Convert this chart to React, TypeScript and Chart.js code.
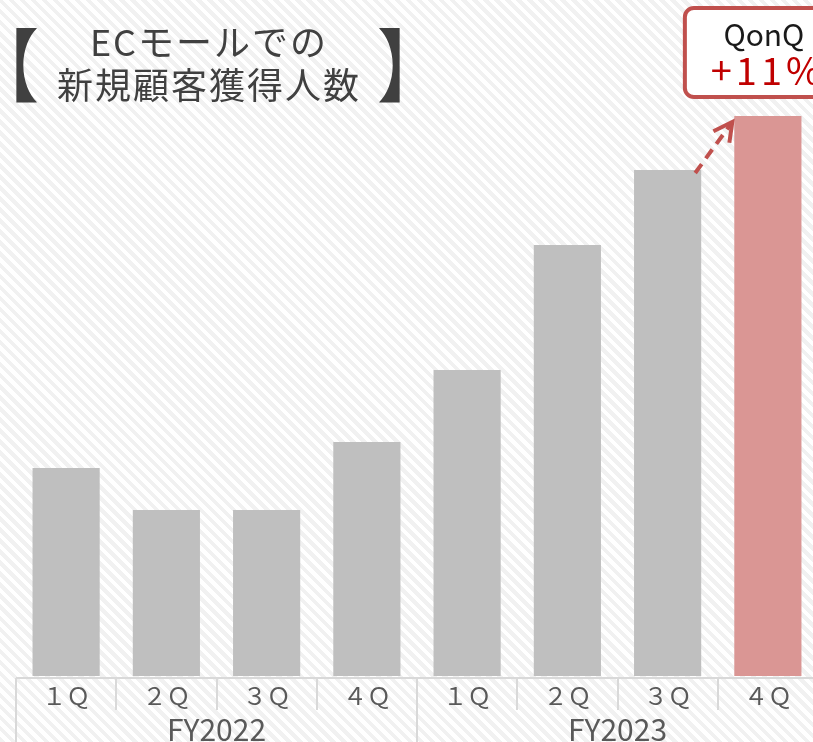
import React, { useEffect, useRef } from 'react';
import { Chart, registerables } from 'chart.js';

Chart.register(...registerables);

const quarterLabels = ['１Ｑ', '２Ｑ', '３Ｑ', '４Ｑ', '１Ｑ', '２Ｑ', '３Ｑ', '４Ｑ'];
const fiscalYears = ['FY2022', 'FY2023'];
const newCustomers = [208, 166, 166, 234, 306, 431, 506, 560];
const titleLines = ['ECモールでの', '新規顧客獲得人数'];
const barColors = ['#bfbfbf', '#bfbfbf', '#bfbfbf', '#bfbfbf', '#bfbfbf', '#bfbfbf', '#bfbfbf', '#da9694'];
const growthLabel = 'QonQ';

const JP = '"Noto Sans CJK JP", "Noto Sans", sans-serif';

function drawBracket(ctx: CanvasRenderingContext2D, ch: string, x: number, y: number, w: number, h: number) {
  ctx.save();
  ctx.font = `100px ${JP}`;
  ctx.textAlign = 'left';
  ctx.textBaseline = 'alphabetic';
  const m = ctx.measureText(ch);
  const inkW = m.actualBoundingBoxLeft + m.actualBoundingBoxRight;
  const inkH = m.actualBoundingBoxAscent + m.actualBoundingBoxDescent;
  ctx.translate(x, y);
  ctx.scale(w / inkW, h / inkH);
  ctx.fillText(ch, m.actualBoundingBoxLeft, m.actualBoundingBoxAscent);
  ctx.restore();
}

const overlayPlugin = {
  id: 'overlay',
  afterDraw(chart: any) {
    const { ctx, chartArea, scales } = chart;
    const xs = scales.x;
    const n = quarterLabels.length;
    const catW = (chartArea.right - chartArea.left) / n;
    const base = chartArea.bottom;
    const H = chart.height;
    ctx.save();

    // axis lines
    ctx.strokeStyle = '#d9d9d9';
    ctx.lineWidth = 2;
    ctx.beginPath();
    ctx.moveTo(chartArea.left, base + 2);
    ctx.lineTo(chartArea.right, base + 2);
    ctx.stroke();
    for (let i = 0; i <= n; i++) {
      const px = i < n ? xs.getPixelForValue(i) - catW / 2 : xs.getPixelForValue(n - 1) + catW / 2;
      const xx = Math.round(px) + 0;
      ctx.beginPath();
      ctx.moveTo(xx, base + 2);
      ctx.lineTo(xx, i % 4 === 0 ? H : base + 34);
      ctx.stroke();
    }

    // quarter labels
    ctx.fillStyle = '#595959';
    ctx.textAlign = 'center';
    ctx.textBaseline = 'middle';
    ctx.font = `24px ${JP}`;
    quarterLabels.forEach((q, i) => {
      ctx.fillText(q, xs.getPixelForValue(i), base + 20);
    });
    // fiscal year labels
    ctx.font = `30px ${JP}`;
    ctx.textBaseline = 'alphabetic';
    fiscalYears.forEach((fy, j) => {
      const cx = (xs.getPixelForValue(j * 4 + 1) + xs.getPixelForValue(j * 4 + 2)) / 2;
      ctx.fillText(fy, cx, H - 1);
    });

    // title
    ctx.fillStyle = '#404040';
    ctx.font = `36px ${JP}`;
    ctx.textAlign = 'center';
    ctx.textBaseline = 'middle';
    (ctx as any).letterSpacing = '2px';
    ctx.fillText(titleLines[0], 209, 42);
    ctx.fillText(titleLines[1], 209, 85);
    (ctx as any).letterSpacing = '0px';
    drawBracket(ctx, '【', 16, 27, 21, 75);
    drawBracket(ctx, '】', 379, 27, 21, 75);

    // dashed arrow between last two bars
    const meta = chart.getDatasetMeta(0);
    const b7 = meta.data[n - 2];
    const b8 = meta.data[n - 1];
    const sx = b7.x + b7.width / 2 - 6;
    const sy = b7.y + 3;
    const tx = b8.x - b8.width / 2 - 2;
    const ty = b8.y + 6;
    ctx.strokeStyle = '#c0504d';
    ctx.lineWidth = 4;
    ctx.setLineDash([11, 7]);
    ctx.beginPath();
    ctx.moveTo(sx, sy);
    ctx.lineTo(tx, ty);
    ctx.stroke();
    ctx.setLineDash([]);
    const ang = Math.atan2(sy - ty, sx - tx);
    const arm = 21;
    const spread = (28 * Math.PI) / 180;
    ctx.beginPath();
    ctx.moveTo(tx + arm * Math.cos(ang - spread), ty + arm * Math.sin(ang - spread));
    ctx.lineTo(tx, ty);
    ctx.lineTo(tx + arm * Math.cos(ang + spread), ty + arm * Math.sin(ang + spread));
    ctx.stroke();

    // QonQ box
    const bx = b8.x;
    ctx.beginPath();
    (ctx as any).roundRect(bx - 83, 8, 166, 89, 9);
    ctx.fillStyle = '#ffffff';
    ctx.fill();
    ctx.strokeStyle = '#c0504d';
    ctx.lineWidth = 4;
    ctx.stroke();
    const v7 = newCustomers[n - 2];
    const v8 = newCustomers[n - 1];
    const pct = Math.round((v8 / v7 - 1) * 100);
    ctx.textAlign = 'center';
    ctx.textBaseline = 'middle';
    ctx.fillStyle = '#1a1a1a';
    ctx.font = `30px ${JP}`;
    ctx.fillText(growthLabel, bx - 4, 35);
    ctx.fillStyle = '#c00000';
    ctx.font = `38px ${JP}`;
    (ctx as any).letterSpacing = '4px';
    ctx.fillText(`+${pct}%`, bx, 71);
    (ctx as any).letterSpacing = '0px';

    ctx.restore();
  },
};

export default function App() {
  const ref = useRef<HTMLCanvasElement>(null);
  useEffect(() => {
    document.body.style.margin = '0';
    const chart = new Chart(ref.current!, {
      type: 'bar',
      data: {
        labels: quarterLabels,
        datasets: [
          {
            data: newCustomers,
            backgroundColor: barColors,
            borderWidth: 0,
            categoryPercentage: 1,
            barPercentage: 0.67,
          },
        ],
      },
      options: {
        responsive: false,
        animation: false,
        devicePixelRatio: 1,
        layout: { padding: { left: 16, right: 12, top: 0, bottom: 66 } },
        plugins: { legend: { display: false }, tooltip: { enabled: false }, title: { display: false } },
        scales: {
          x: { display: false, offset: true },
          y: { display: false, min: 0, max: 676 },
        },
      },
      plugins: [overlayPlugin],
    });
    return () => chart.destroy();
  }, []);
  return (
    <div
      style={{
        position: 'absolute',
        left: 0,
        top: 0,
        width: 813,
        height: 742,
        overflow: 'hidden',
        background:
          'repeating-linear-gradient(45deg, #f1f1f1 0px, #f1f1f1 4px, #ffffff 4px, #ffffff 7.8px)',
      }}
    >
      <canvas ref={ref} width={830} height={742} style={{ width: 830, height: 742, display: 'block' }} />
    </div>
  );
}
